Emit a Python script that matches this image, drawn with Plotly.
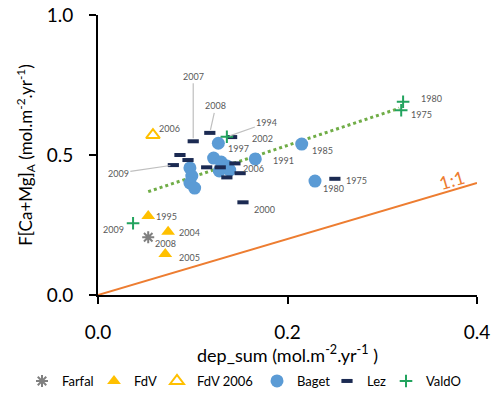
import plotly.graph_objects as go

# ---------------- data ----------------
farfal_x = [0.053]
farfal_y = [0.206]
farfal_lab = ["2008"]

fdv_x = [0.053, 0.074, 0.071]
fdv_y = [0.282, 0.226, 0.146]
fdv_lab = ["1995", "2004", "2005"]

fdv06_x = [0.058]
fdv06_y = [0.571]
fdv06_lab = ["2006"]

baget_x = [0.127, 0.166, 0.215, 0.229, 0.097, 0.099, 0.097, 0.102, 0.122, 0.130, 0.136, 0.128, 0.139]
baget_y = [0.542, 0.486, 0.539, 0.407, 0.454, 0.425, 0.400, 0.382, 0.489, 0.475, 0.461, 0.443, 0.446]
baget_lab = ["1997", "1991", "1985", "1980", "", "", "", "", "", "", "", "", "2006"]

lez_x = [0.1005, 0.118, 0.141, 0.0865, 0.095, 0.0795, 0.1147, 0.129, 0.1445, 0.150, 0.136, 0.153, 0.250]
lez_y = [0.549, 0.579, 0.564, 0.500, 0.482, 0.464, 0.456, 0.456, 0.470, 0.435, 0.420, 0.331, 0.415]
lez_lab = ["2007", "2008", "2002", "", "", "2009", "", "", "", "", "", "2000", "1975"]

valdo_x = [0.037, 0.136, 0.322, 0.320]
valdo_y = [0.256, 0.565, 0.690, 0.660]
valdo_lab = ["2009", "1994", "1980", "1975"]

trend_x = [0.053, 0.318]
trend_y = [0.369, 0.667]

one_x = [0.0, 0.4]
one_y = [0.0, 0.4]

x_ticks = [0.0, 0.2, 0.4]
x_ticktext = ["0.0", "0.2", "0.4"]
y_ticks = [0.0, 0.5, 1.0]
y_ticktext = ["0.0", "0.5", "1.0"]

# ---------------- styling ----------------
FONT = "Lato"
LABEL_COLOR = "#595959"
LEADER_COLOR = "#BFBFBF"
W, H = 491, 393

fig = go.Figure()

fig.add_trace(go.Scatter(x=one_x, y=one_y, mode="lines", showlegend=False,
                         line=dict(color="#ED7D31", width=2), hoverinfo="skip"))
fig.add_trace(go.Scatter(x=trend_x, y=trend_y, mode="lines", showlegend=False,
                         line=dict(color="#70AD47", width=3, dash="dot"), hoverinfo="skip"))

fig.add_trace(go.Scatter(x=farfal_x, y=farfal_y, mode="markers", name="Farfal", legend="legend",
                         marker=dict(symbol="asterisk-open", size=10, color="#808080",
                                     line=dict(color="#808080", width=2))))
fig.add_trace(go.Scatter(x=fdv_x, y=fdv_y, mode="markers", name="FdV", legend="legend2",
                         marker=dict(symbol="triangle-up", size=12, color="#FFC000",
                                     line=dict(width=0))))
fig.add_trace(go.Scatter(x=fdv06_x, y=fdv06_y, mode="markers", name="FdV 2006", legend="legend3",
                         marker=dict(symbol="triangle-up-open", size=12, color="#FFC000",
                                     line=dict(color="#FFC000", width=2))))
fig.add_trace(go.Scatter(x=baget_x, y=baget_y, mode="markers", name="Baget", legend="legend4",
                         marker=dict(symbol="circle", size=13, color="#5B9BD5",
                                     line=dict(width=0))))
fig.add_trace(go.Scatter(x=lez_x, y=lez_y, mode="markers", name="Lez", legend="legend5",
                         marker=dict(symbol="line-ew-open", size=8, color="#1B2A52",
                                     line=dict(color="#1B2A52", width=4))))
fig.add_trace(go.Scatter(x=valdo_x, y=valdo_y, mode="markers", name="ValdO", legend="legend6",
                         marker=dict(symbol="cross-thin-open", size=9, color="#22A35E",
                                     line=dict(color="#22A35E", width=2))))

# label placement: (dx, dy) in pixels (dy downwards), anchor; leaders use ax/ay
plain_offsets = {
    ("farfal", 0): (5, 6, "left"),
    ("fdv", 0): (6, 0, "left"),
    ("fdv", 1): (9, 1, "left"),
    ("fdv", 2): (12, 3, "left"),
    ("fdv06", 0): (4, -7, "left"),
    ("baget", 0): (8, 5, "left"),
    ("baget", 1): (16, 2, "left"),
    ("baget", 2): (8, 6, "left"),
    ("baget", 3): (6, 7, "left"),
    ("baget", 12): (11, -2, "left"),
    ("lez", 2): (18, 1, "left"),
    ("lez", 11): (9, 7, "left"),
    ("lez", 12): (9, 2, "left"),
    ("valdo", 0): (-7, 6, "right"),
    ("valdo", 2): (16, -3, "left"),
    ("valdo", 3): (8, 4, "left"),
}
leader_offsets = {
    ("lez", 0): (0, -65),
    ("lez", 1): (6, -27),
    ("lez", 5): (-55, 8),
    ("valdo", 1): (40, -14),
}

series = {
    "farfal": (farfal_x, farfal_y, farfal_lab),
    "fdv": (fdv_x, fdv_y, fdv_lab),
    "fdv06": (fdv06_x, fdv06_y, fdv06_lab),
    "baget": (baget_x, baget_y, baget_lab),
    "lez": (lez_x, lez_y, lez_lab),
    "valdo": (valdo_x, valdo_y, valdo_lab),
}

annotations = []
for key, (xs, ys, labs) in series.items():
    for i, (xv, yv, lab) in enumerate(zip(xs, ys, labs)):
        if not lab:
            continue
        if (key, i) in leader_offsets:
            ax, ay = leader_offsets[(key, i)]
            annotations.append(dict(x=xv, y=yv, text=lab, showarrow=True, arrowhead=0,
                                    ax=ax, ay=ay, arrowcolor=LEADER_COLOR, arrowwidth=1.2,
                                    standoff=3, font=dict(family=FONT, size=9, color=LABEL_COLOR)))
        else:
            dx, dy, anc = plain_offsets.get((key, i), (6, 0, "left"))
            annotations.append(dict(x=xv, y=yv, text=lab, showarrow=False, xanchor=anc,
                                    xshift=dx, yshift=-dy,
                                    font=dict(family=FONT, size=9, color=LABEL_COLOR)))

annotations.append(dict(x=0.373, y=0.373, text="1:1", showarrow=False, textangle=-16.5,
                        yshift=11, font=dict(family=FONT, size=18, color="#ED7D31")))

# one single-entry legend per series, placed along the bottom row
legend_left_px = [22, 94, 157, 257, 327, 386]
legend_names = ["legend", "legend2", "legend3", "legend4", "legend5", "legend6"]
legend_layout = {}
for nm, px in zip(legend_names, legend_left_px):
    legend_layout[nm] = dict(orientation="h", xref="container", yref="container",
                             x=px / W, xanchor="left", y=1 - 381 / H, yanchor="middle",
                             font=dict(family=FONT, size=13, color="#000000"), itemwidth=30,
                             bgcolor="rgba(0,0,0,0)", borderwidth=0)

fig.update_layout(
    width=W, height=H,
    margin=dict(l=98, r=14, t=15, b=98, autoexpand=False),
    paper_bgcolor="white", plot_bgcolor="white",
    font=dict(family=FONT, color="#000000"),
    annotations=annotations,
    showlegend=True,
    **legend_layout,
)
fig.update_xaxes(range=[0, 0.4], tickvals=x_ticks, ticktext=x_ticktext,
                 showline=True, linecolor="black", linewidth=2, ticks="outside",
                 ticklen=7, tickwidth=2, tickcolor="black", showgrid=False, zeroline=False,
                 tickfont=dict(family=FONT, size=19), ticklabelstandoff=12,
                 title=dict(text="dep_sum (mol.m<sup>-2</sup>.yr<sup>-1</sup> )",
                            font=dict(family=FONT, size=18), standoff=9))
fig.update_yaxes(range=[0, 1], tickvals=y_ticks, ticktext=y_ticktext,
                 showline=True, linecolor="black", linewidth=2, ticks="outside",
                 ticklen=7, tickwidth=2, tickcolor="black", showgrid=False, zeroline=False,
                 tickfont=dict(family=FONT, size=19), ticklabelstandoff=12,
                 title=dict(text="F[Ca+Mg]<sub>A</sub> (mol.m<sup>-2</sup>.yr<sup>-1</sup>)",
                            font=dict(family=FONT, size=17), standoff=10))

fig.write_html("out.html")
